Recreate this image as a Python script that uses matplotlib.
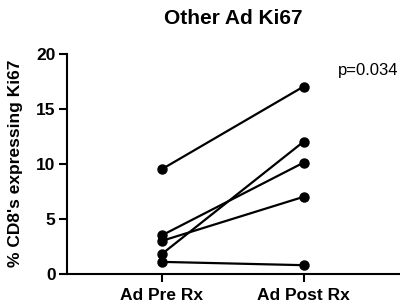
import matplotlib
matplotlib.use("Agg")
import matplotlib.pyplot as plt

groups = ["Ad Pre Rx", "Ad Post Rx"]
pre = [9.5, 3.5, 3.0, 1.8, 1.1]
post = [17.0, 10.1, 7.0, 12.0, 0.8]
yticks = [0, 5, 10, 15, 20]

plt.rcParams['font.family'] = ['Liberation Sans', 'DejaVu Sans']

fig = plt.figure(figsize=(4.0, 3.07), dpi=100)
ax = fig.add_axes([0.1667, 0.1075, 0.8333, 0.7182])

xs = list(range(len(groups)))
for a, b in zip(pre, post):
    ax.plot(xs, [a, b], color='black', lw=1.6, marker='o', ms=6.5,
            markerfacecolor='black', markeredgecolor='black', clip_on=False, zorder=3)

ax.set_xlim(-0.67, 1.68)
ax.set_ylim(0, 20)
ax.set_yticks(yticks)
ax.set_yticklabels([str(t) for t in yticks], fontweight='bold', fontsize=12.5)
ax.set_xticks(xs)
ax.set_xticklabels(groups, fontweight='bold', fontsize=12.5)
ax.set_ylabel("% CD8's expressing Ki67", fontweight='bold', fontsize=12.5)
ax.yaxis.set_label_coords(-0.132, 0.5)
ax.set_title("Other Ad Ki67", fontweight='bold', fontsize=15, pad=21)

for s in ['top', 'right']:
    ax.spines[s].set_visible(False)
for s in ['left', 'bottom']:
    ax.spines[s].set_linewidth(1.5)
ax.tick_params(axis='y', width=1.5, length=6, direction='out', pad=2)
ax.tick_params(axis='x', width=1.5, length=6, direction='out', pad=4)

ax.text(0.995, 0.925, "p=0.034", transform=ax.transAxes, ha='right', va='center', fontsize=12)

fig.savefig("out.png", dpi=100)
